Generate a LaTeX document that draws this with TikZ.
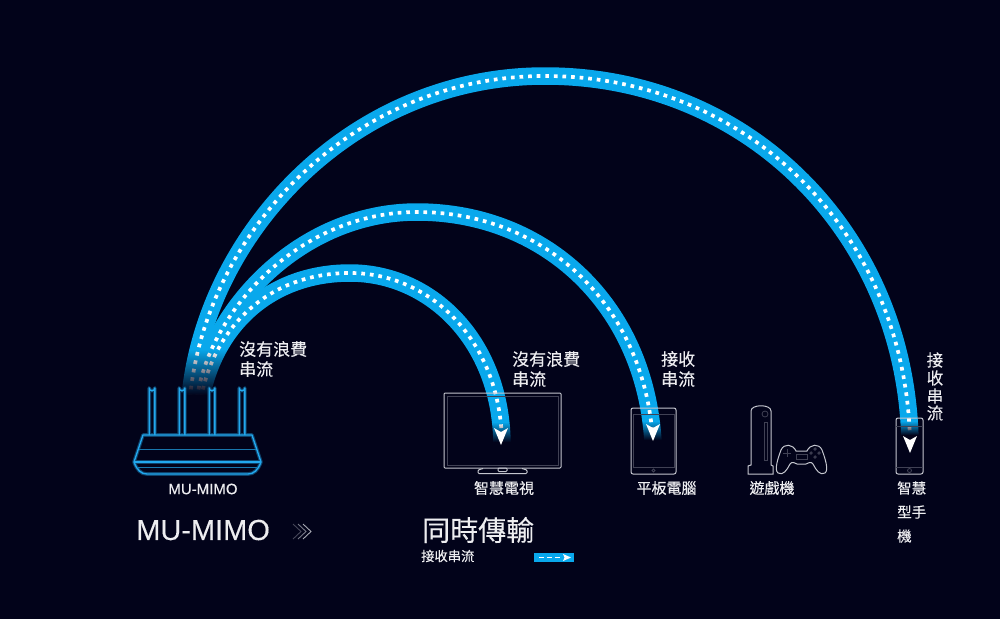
\documentclass[tikz,border=0pt]{standalone}
\usepackage{fontspec}
\setmainfont{Liberation Sans}[FakeBold=0.25]
\newfontfamily\cjk{Noto Sans CJK TC}[FakeBold=0.2]
\definecolor{nightbg}{HTML}{02031A}
\definecolor{streamblue}{HTML}{09A8EC}
\definecolor{routerblue}{HTML}{22A8EE}
\definecolor{devicegrey}{HTML}{C4C6CE}
\definecolor{labelgrey}{HTML}{EDEDF0}
\tikzset{
  band/.style={draw=streamblue,line width=17.5pt},
  dots/.style={draw=white,line width=3.7pt,dash pattern=on 3.7pt off 4.9pt},
  device/.style={draw=devicegrey,line width=1pt,rounded corners=1pt},
  devicedim/.style={draw=devicegrey!32!nightbg,line width=0.8pt},
  router/.style={draw=routerblue,line width=1.4pt,line join=round},
  routerglow/.style={draw=routerblue!38!nightbg,line width=3.6pt,line join=round},
  txt/.style={text=labelgrey,inner sep=0pt,anchor=west,align=left,font=\cjk\fontsize{#1}{20}\selectfont},
}
\begin{document}
\begin{tikzpicture}[x=1pt,y=-1pt,line cap=butt]
\fill[nightbg] (0,0) rectangle (1000,619);
\useasboundingbox (0,0) rectangle (1000,619);
% ---------- #1 = left, #2 = right, #3 = top, #4 = bottom (integers): band fades out downwards ----------
\newcommand{\bandfade}[4]{%
  \pgfmathtruncatemacro{\nrows}{#4-#3-1}%
  \foreach \k in {0,...,\nrows}{%
    \pgfmathsetmacro{\op}{(\k+1)/(\nrows+1)}%
    \fill[nightbg,opacity=\op] (#1,#3+\k) rectangle (#2,#3+\k+1.1);
  }
  \fill[nightbg] (#1,#4) rectangle (#2,#4+8);
}
% ---------- #1 = x, #2 = y of the white tip ----------
\newcommand{\downtip}[2]{%
  \fill[white] (#1,#2) -- (#1-7,#2-17) -- (#1,#2-13) -- (#1+7,#2-17) -- cycle;
}
% ---------- streams ----------
\foreach \s in {band,dots}{%
  \draw[\s] (190,398) .. controls (205,235) and (350,76) .. (545,76) .. controls (750,76) and (905,235) .. (910,440);
  \draw[\s] (197,398) .. controls (210,310) and (300,212) .. (417,212) .. controls (545,212) and (645,305) .. (653,442);
  \draw[\s] (201,398) .. controls (215,325) and (270,273) .. (350,273) .. controls (430,273) and (500,340) .. (502,442);
}
% ---------- band ends ----------
\bandfade{170}{235}{350}{396}
\bandfade{482}{522}{423}{443}
\bandfade{634}{674}{422}{441}
\bandfade{894}{926}{422}{436}
\downtip{501}{445}
\downtip{653}{441}
\downtip{910}{453}
% ---------- router ----------
\foreach \s in {routerglow,router}{%
  \foreach \ax in {152,182,212,242}{%
    \draw[\s] (\ax-2.8,435) -- (\ax-2.8,388) arc[start angle=180,end angle=0,radius=2.8] -- (\ax+2.8,435);
  }
  \draw[\s] (143,435) -- (252,435) -- (261,462) .. controls (258,470) and (254,474) .. (248,474) -- (147,474) .. controls (141,474) and (137,470) .. (134,462) -- cycle;
  \draw[\s] (134,462) -- (261,462);
}
\draw[routerblue!70!nightbg,line width=1pt] (139,449) -- (256,449);
\draw[routerblue!70!nightbg,line width=1pt] (137,467) -- (258,467);
% ---------- tv ----------
\draw[device] (444,393) rectangle (561,468);
\draw[devicedim] (447,396) rectangle (558,465);
\draw[device] (483,468.5) -- (478,470) -- (478,473.5) -- (527,473.5) -- (527,470) -- (522,468.5);
\draw[device] (498,468) rectangle (507,471.5);
% ---------- tablet ----------
\draw[device,rounded corners=2pt] (631,408) rectangle (676,474);
\draw[devicedim] (633,414) rectangle (674,467);
\draw[devicedim] (653.5,470.5) circle (1.5);
% ---------- game console ----------
\draw[device,rounded corners=0pt] (748,474) -- (748,466) -- (751,465) -- (751,411) .. controls (751,404) and (771,404) .. (771,411) -- (771,465) -- (773,466) -- (773,474) -- cycle;
\draw[devicedim] (765,414) circle (3);
\draw[devicedim] (764,422) rectangle (767,460);
\draw[device,rounded corners=0pt] (796,451) .. controls (793,444) and (784,443) .. (781,450) .. controls (778,458) and (774,470) .. (778,473) .. controls (783,476) and (787,470) .. (790,464) .. controls (792,461) and (795,463) .. (797,464) -- (806,464) .. controls (808,463) and (811,461) .. (813,464) .. controls (816,470) and (820,476) .. (825,473) .. controls (829,470) and (825,458) .. (822,450) .. controls (819,443) and (810,444) .. (807,451) -- cycle;
\draw[devicedim] (783,453) -- (791,453) (787,449) -- (787,457);
\draw[devicedim] (796,454) rectangle (807,459);
\foreach \bx/\by in {815/449,811/453,819/453,815/457}{%
  \draw[devicedim] (\bx,\by) circle (1.2);
}
% ---------- phone ----------
\draw[device,rounded corners=2pt] (896,418) rectangle (923,474);
\draw[devicedim] (896,426) -- (923,426) (896,467) -- (923,467);
\draw[devicedim] (909.5,470.5) circle (2);
% ---------- labels ----------
\node[txt=17] (wasteA) at (239,359) {沒有浪費\\串流};
\node[txt=17] (wasteB) at (512,369) {沒有浪費\\串流};
\node[txt=17] (rxB) at (661,369) {接收\\串流};
\node[txt=16.5,anchor=center] (rxCa) at (935,360) {接};
\node[txt=16.5,anchor=center] (rxCb) at (935,378) {收};
\node[txt=16.5,anchor=center] (rxCc) at (935,396) {串};
\node[txt=16.5,anchor=center] (rxCd) at (935,413) {流};
\node[text=labelgrey,inner sep=0pt,font=\fontsize{15}{15}\selectfont] (routername) at (203,489) {MU-MIMO};
\node[txt=15,anchor=center] (tvname) at (504,488) {智慧電視};
\node[txt=15,anchor=center] (tabletname) at (666.5,488) {平板電腦};
\node[txt=15,anchor=center] (consolename) at (772,488) {遊戲機};
\node[txt=14.5,anchor=west] (phonenameA) at (897,488) {智慧};
\node[txt=14.5,anchor=west] (phonenameB) at (897,512) {型手};
\node[txt=14.5,anchor=west] (phonenameC) at (897,536) {機};
\node[text=labelgrey,inner sep=0pt,anchor=west,font=\fontsize{29}{32}\selectfont] (mumimo) at (136,530) {MU-MIMO};
\node[txt=28] (sametime) at (422,530) {同時傳輸};
\node[txt=13.3] (legendname) at (421,556) {接收串流};
% ---------- chevrons ----------
\foreach \k/\sh in {0/35,1/60,2/85}{%
  \draw[devicegrey!\sh!nightbg,line width=0.9pt] (293+\k*5,524) -- (301+\k*5,531.5) -- (293+\k*5,539);
}
% ---------- legend ----------
\fill[streamblue] (534,553) rectangle (573.5,562);
\draw[white,line width=1.2pt,dash pattern=on 4.5pt off 3.5pt] (539,557.5) -- (562,557.5);
\fill[white] (571,557.5) -- (563,554) -- (564.5,557.5) -- (563,561) -- cycle;
\end{tikzpicture}
\end{document}
